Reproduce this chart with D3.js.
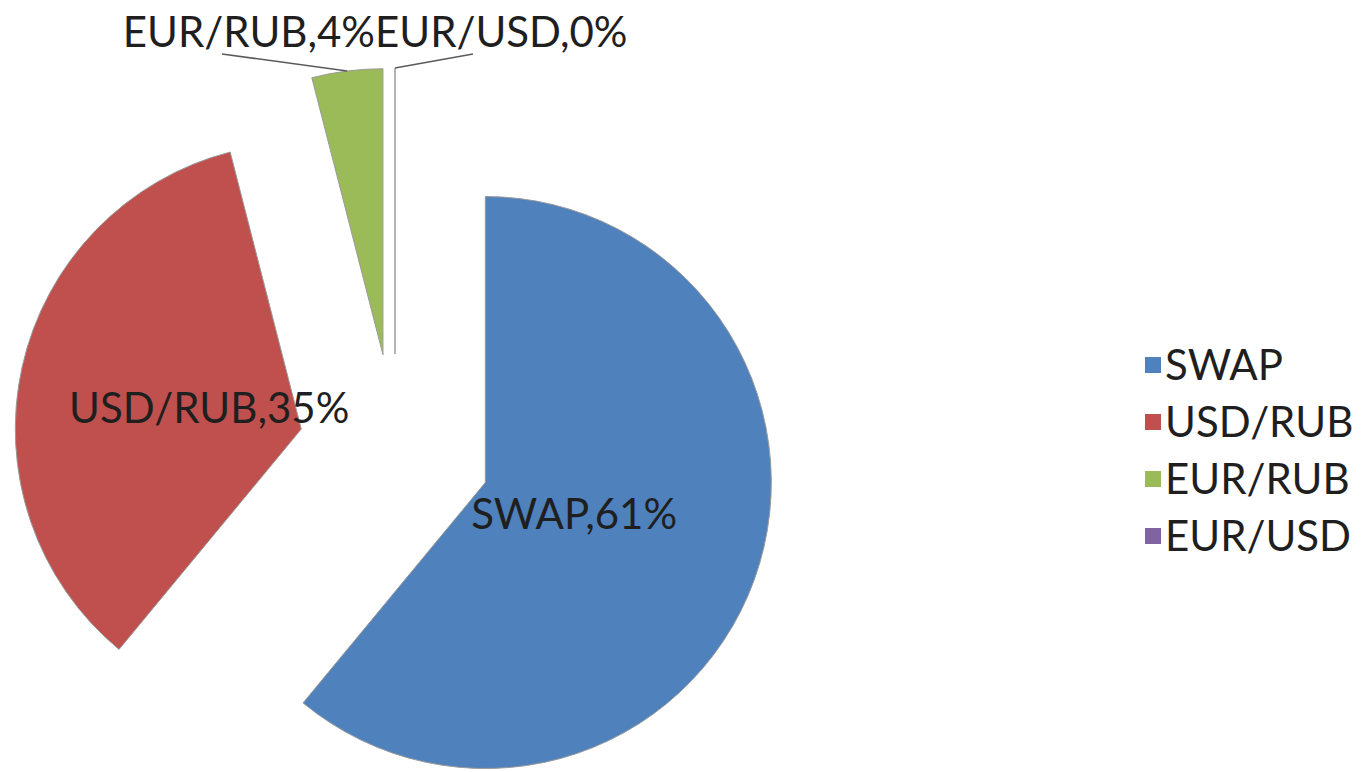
<!DOCTYPE html>
<html>
<head>
<meta charset="utf-8">
<script src="https://cdn.jsdelivr.net/npm/d3@7"></script>
<style>
  body { margin: 0; background: #fff; }
  svg text { font-family: Lato, "Open Sans", sans-serif; fill: #1f1f1f; }
</style>
</head>
<body>
<script>
// chart data
var categories = ["SWAP", "USD/RUB", "EUR/RUB", "EUR/USD"];
var shares = [61, 35, 4, 0];
var colours = ["#4F81BD", "#C0504D", "#9BBB59", "#8064A2"];

var width = 1367, height = 772;
var cx = 395, cy = 450;       // pie centre before explosion
var radius = 286;
var explode = 96;
var fontSize = 42;

var svg = d3.select("body")
  .append("svg")
  .attr("width", width)
  .attr("height", height);

var dataset = categories.map(function(c, i) {
  return {name: c, value: shares[i], colour: colours[i]};
});

var pie = d3.pie()
  .sort(null)
  .value(function(d) { return d.value; });

var arc = d3.arc()
  .innerRadius(0)
  .outerRadius(radius);

var slices = pie(dataset);

// offset each slice along its mid angle
slices.forEach(function(s) {
  var mid = (s.startAngle + s.endAngle) / 2;
  s.mid = mid;
  s.ox = cx + explode * Math.sin(mid);
  s.oy = cy - explode * Math.cos(mid);
});

svg.selectAll("path.slice")
  .data(slices)
  .enter()
  .append("path")
  .attr("class", "slice")
  .attr("transform", function(d) { return "translate(" + d.ox + "," + d.oy + ")"; })
  .attr("d", arc)
  .attr("fill", function(d) { return d.data.colour; })
  .attr("stroke", "#9a9a9a")
  .attr("stroke-width", 1);

// inside labels for the big slices
var inside = slices.filter(function(s) { return s.data.value >= 10; });
svg.selectAll("text.inlabel")
  .data(inside)
  .enter()
  .append("text")
  .attr("class", "inlabel")
  .attr("x", function(d) { return d.ox + radius * 0.33 * Math.sin(d.mid); })
  .attr("y", function(d) { return d.oy - radius * 0.33 * Math.cos(d.mid); })
  .attr("dy", "0.35em")
  .attr("text-anchor", "middle")
  .style("font-size", fontSize + "px")
  .text(function(d) { return d.data.name + "," + d.data.value + "%"; });

// outside labels for the thin slices, placed above the pie
var outside = slices.filter(function(s) { return s.data.value < 10; });
var labelSplit = 375, labelY = 32;
var leaderStart = [[222, 54], [473, 54]];

outside.forEach(function(d, i) {
  var px = d.ox + radius * Math.sin(d.mid);
  var py = d.oy - radius * Math.cos(d.mid);
  svg.append("line")
    .attr("x1", leaderStart[i][0])
    .attr("y1", leaderStart[i][1])
    .attr("x2", px)
    .attr("y2", py)
    .attr("stroke", "#5a5a5a")
    .attr("stroke-width", 1.5);

  svg.append("text")
    .attr("x", labelSplit)
    .attr("y", labelY)
    .attr("dy", "0.35em")
    .attr("text-anchor", i == 0 ? "end" : "start")
    .style("font-size", fontSize + "px")
    .text(d.data.name + "," + d.data.value + "%");
});

// legend
var legend = svg.append("g")
  .attr("transform", "translate(1145,365)");

var rows = legend.selectAll("g")
  .data(dataset)
  .enter()
  .append("g")
  .attr("transform", function(d, i) { return "translate(0," + (i * 57) + ")"; });

rows.append("rect")
  .attr("x", 0)
  .attr("y", -8)
  .attr("width", 16)
  .attr("height", 16)
  .attr("fill", function(d) { return d.colour; });

rows.append("text")
  .attr("x", 20)
  .attr("y", 0)
  .attr("dy", "0.35em")
  .style("font-size", fontSize + "px")
  .text(function(d) { return d.name; });
</script>
</body>
</html>
